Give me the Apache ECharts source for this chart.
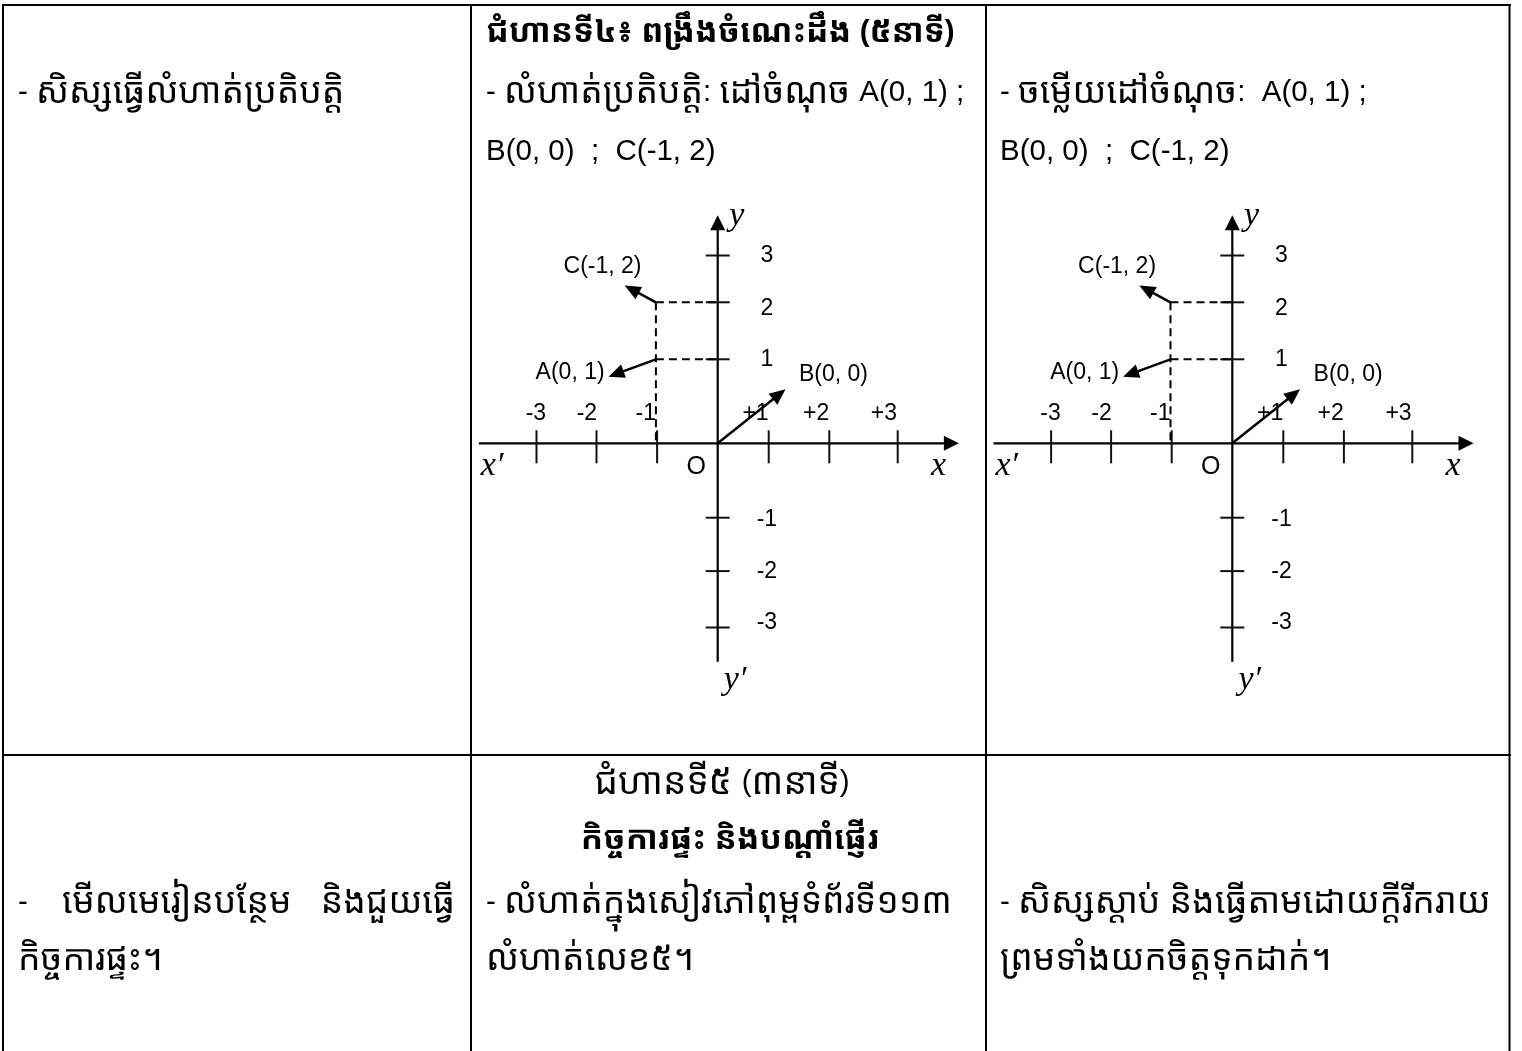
<!DOCTYPE html>
<html><head><meta charset="utf-8">
<script src="https://cdn.jsdelivr.net/npm/echarts@6.0.0/dist/echarts.min.js"></script>
<style>html,body{margin:0;padding:0;background:#fff}#c{width:1522px;height:1051px}</style>
</head><body><div id="c"></div>
<script>
// ---- data (axis units) ----
const xTickPos = [-3.02, -2.02, -1.01, 0.85, 1.86, 3.0];
const xTickLabels = ['-3', '-2', '-1', '+1', '+2', '+3'];
const xLabelPos = [-3.03, -2.18, -1.2, 0.63, 1.64, 2.77];
const yTickPos = [3.13, 2.35, 1.4, -1.24, -2.13, -3.07];
const yTickLabels = ['3', '2', '1', '-1', '-2', '-3'];
const yLabelPos = [3.13, 2.25, 1.4, -1.28, -2.14, -2.99];
const xAxisLine = [-3.98, 4.02];
const yAxisLine = [-3.64, 3.8];
const pointNames = ['A(0, 1)', 'B(0, 0)', 'C(-1, 2)'];
const arrowStarts = [[-1.03, 1.4], [0, 0], [-1.03, 2.35]];
const arrowTips = [[-1.82, 1.11], [1.13, 0.9], [-1.55, 2.63]];
const pointLabelPos = [[-2.46, 1.17], [1.93, 1.14], [-1.92, 2.94]];
const axisNames = ['x′', 'x', 'y', 'y′', 'O'];
const axisNamePos = [[-3.76, -0.38], [3.68, -0.38], [0.32, 3.79], [0.29, -3.94], [-0.36, -0.39]];

// ---- table text ----
const row1 = {
  c1: ['- សិស្សធ្វើលំហាត់ប្រតិបត្តិ'],
  c2title: 'ជំហានទី៤៖ ពង្រឹងចំណេះដឹង (៥នាទី)',
  c2: ['- លំហាត់ប្រតិបត្តិ: ដៅចំណុច A(0, 1) ;', 'B(0, 0)  ;  C(-1, 2)'],
  c3: ['- ចម្លើយដៅចំណុច:  A(0, 1) ;', 'B(0, 0)  ;  C(-1, 2)']
};
const row2 = {
  c1a: ['-', 'មើលមេរៀនបន្ថែម', 'និងជួយធ្វើ'],
  c1b: 'កិច្ចការផ្ទះ។',
  c2head: 'ជំហានទី៥ (៣នាទី)',
  c2title: 'កិច្ចការផ្ទះ និងបណ្តាំផ្ញើរ',
  c2: ['- លំហាត់ក្នុងសៀវភៅពុម្ពទំព័រទី១១៣', 'លំហាត់លេខ៥។'],
  c3: ['- សិស្សស្តាប់ និងធ្វើតាមដោយក្តីរីករាយ', 'ព្រមទាំងយកចិត្តទុកដាក់។']
};

const KH = '"Noto Sans Khmer","Noto Serif Khmer","Khmer OS","Khmer OS System","Liberation Sans",sans-serif';
const LT = '"Liberation Sans",Arial,"Noto Sans",sans-serif';
const UNIT = 60;
const ORIGINS = [[717.7, 443.3], [1232.3, 443.3]];

function base(g) {
  return { type: 'custom', coordinateSystem: 'cartesian2d', xAxisIndex: g, yAxisIndex: g, clip: false, silent: true, animation: false };
}
function arrowSeries(g, segs, headL, headW, lw) {
  return Object.assign(base(g), {
    data: segs,
    renderItem: function (params, api) {
      const a = api.coord([api.value(0), api.value(1)]);
      const b = api.coord([api.value(2), api.value(3)]);
      const dx = b[0] - a[0], dy = b[1] - a[1], len = Math.hypot(dx, dy);
      const ux = dx / len, uy = dy / len;
      const bx = b[0] - ux * headL, by = b[1] - uy * headL;
      const nx = -uy * headW / 2, ny = ux * headW / 2;
      return { type: 'group', children: [
        { type: 'line', shape: { x1: a[0], y1: a[1], x2: bx + ux * 2, y2: by + uy * 2 }, style: { stroke: '#000', lineWidth: lw } },
        { type: 'polygon', shape: { points: [[b[0], b[1]], [bx + nx, by + ny], [bx - nx, by - ny]] }, style: { fill: '#000' } }
      ] };
    }
  });
}
function tickSeries(g, data, vertical) {
  return Object.assign(base(g), {
    data: data,
    renderItem: function (params, api) {
      const p = api.coord([api.value(0), api.value(1)]);
      const shape = vertical ? { x1: p[0], y1: p[1] - 13, x2: p[0], y2: p[1] + 20 }
                             : { x1: p[0] - 12, y1: p[1], x2: p[0] + 12, y2: p[1] };
      return { type: 'line', shape: shape, style: { stroke: '#111', lineWidth: 2 } };
    }
  });
}
function dashSeries(g, segs) {
  return Object.assign(base(g), {
    data: segs,
    renderItem: function (params, api) {
      const a = api.coord([api.value(0), api.value(1)]);
      const b = api.coord([api.value(2), api.value(3)]);
      return { type: 'line', shape: { x1: a[0], y1: a[1], x2: b[0], y2: b[1] }, style: { stroke: '#000', lineWidth: 2, lineDash: [8, 5] } };
    }
  });
}
function textSeries(g, pos, texts, font) {
  return Object.assign(base(g), {
    data: pos,
    renderItem: function (params, api) {
      const p = api.coord([api.value(0), api.value(1)]);
      const f = typeof font === 'function' ? font(params.dataIndex) : font;
      return { type: 'text', x: p[0], y: p[1], style: { text: texts[params.dataIndex], font: f, fill: '#000', align: 'center', verticalAlign: 'middle' } };
    }
  });
}

const series = [];
ORIGINS.forEach(function (o, g) {
  series.push(arrowSeries(g, [[xAxisLine[0], 0, xAxisLine[1], 0], [0, yAxisLine[0], 0, yAxisLine[1]]], 15, 15, 2.2));
  series.push(tickSeries(g, xTickPos.map(v => [v, 0]), true));
  series.push(tickSeries(g, yTickPos.map(v => [0, v]), false));
  const dashed = [];
  [0, 2].forEach(i => dashed.push([arrowStarts[i][0], arrowStarts[i][1], 0, arrowStarts[i][1]]));
  dashed.push([arrowStarts[2][0], arrowStarts[2][1], arrowStarts[2][0], 0]);
  series.push(dashSeries(g, dashed));
  series.push(arrowSeries(g, arrowStarts.map((s, i) => [s[0], s[1], arrowTips[i][0], arrowTips[i][1]]), 16, 14, 2.5));
  series.push(textSeries(g, xLabelPos.map(v => [v, 0.5]), xTickLabels, '23px ' + LT));
  series.push(textSeries(g, yLabelPos.map(v => [0.82, v]), yTickLabels, '23px ' + LT));
  series.push(textSeries(g, pointLabelPos, pointNames, '23px ' + LT));
  series.push(textSeries(g, axisNamePos, axisNames, function (i) {
    return i === 4 ? '25px ' + LT : 'italic 34px "Liberation Serif","Times New Roman",serif';
  }));
});

// split a line into Khmer / Latin runs -> rich text
function richText(str, bold, khSize, ltSize) {
  const runs = [];
  let cur = '', curK = null;
  for (const ch of str) {
    const code = ch.codePointAt(0);
    let isK = (code >= 0x1780 && code <= 0x17FF) || (code >= 0x19E0 && code <= 0x19FF);
    if (ch === ' ' && curK !== null) isK = curK;
    if (curK === null) curK = isK;
    if (isK !== curK) { runs.push([curK, cur]); cur = ''; curK = isK; }
    cur += ch;
  }
  if (cur) runs.push([curK, cur]);
  const b = bold ? 'bold ' : '';
  return {
    text: runs.map(r => '{' + (r[0] ? 'k' : 'l') + '|' + r[1] + '}').join(''),
    rich: {
      k: { font: b + khSize + 'px ' + KH, fill: '#000', verticalAlign: 'middle' },
      l: { font: b + ltSize + 'px ' + LT, fill: '#000', verticalAlign: 'middle' }
    }
  };
}
function t(x, y, text, opt) {
  opt = opt || {};
  const r = richText(text, opt.bold, opt.kh || (opt.bold ? 33 : 35.5), opt.lt || 29.5);
  return { type: 'text', x: x, y: y, silent: true, style: { text: r.text, rich: r.rich, fill: '#000', align: opt.align || 'left', verticalAlign: 'middle' } };
}
function hl(y, x1, x2) { return { type: 'line', silent: true, shape: { x1: x1, y1: y, x2: x2, y2: y }, style: { stroke: '#000', lineWidth: 2 } }; }
function vl(x, y1, y2) { return { type: 'line', silent: true, shape: { x1: x, y1: y1, x2: x, y2: y2 }, style: { stroke: '#000', lineWidth: 2 } }; }

const graphic = [
  hl(5, 2, 1511), hl(755, 2, 1511),
  vl(3, 4, 1051), vl(471, 4, 1051), vl(986, 4, 1051), vl(1509.5, 4, 1051),
  t(18, 93, row1.c1[0]),
  t(486, 33, row1.c2title, { bold: true }),
  t(486, 93, row1.c2[0]), t(486, 152, row1.c2[1]),
  t(1000, 93, row1.c3[0]), t(1000, 152, row1.c3[1]),
  t(18, 903, row2.c1a[0]), t(62, 903, row2.c1a[1]), t(455, 903, row2.c1a[2], { align: 'right' }),
  t(18, 960, row2.c1b),
  t(722, 783, row2.c2head, { align: 'center', kh: 37 }),
  t(730, 840, row2.c2title, { bold: true, align: 'center' }),
  t(486, 903, row2.c2[0]), t(486, 960, row2.c2[1]),
  t(1000, 903, row2.c3[0]), t(1000, 960, row2.c3[1])
];

const chart = echarts.init(document.getElementById('c'), null, { renderer: 'canvas' });
chart.setOption({
  animation: false,
  backgroundColor: '#fff',
  grid: ORIGINS.map(o => ({ left: o[0] - 4 * UNIT, top: o[1] - 4 * UNIT, width: 8 * UNIT, height: 8 * UNIT, show: false })),
  xAxis: ORIGINS.map((o, i) => ({ type: 'value', gridIndex: i, min: -4, max: 4, show: false })),
  yAxis: ORIGINS.map((o, i) => ({ type: 'value', gridIndex: i, min: -4, max: 4, show: false })),
  graphic: graphic,
  series: series
});
</script>
</body></html>
